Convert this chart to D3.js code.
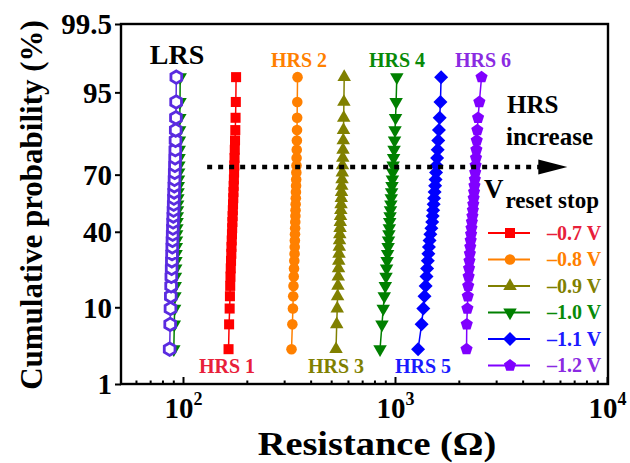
<!DOCTYPE html>
<meta charset="utf-8">
<style>
    body { margin: 0; background: #fff; }
    text { font-family: "Liberation Serif", "Times New Roman", serif; font-weight: bold; }
</style>
<svg width="630" height="463"></svg>
<script src="https://d3js.org/d3.v7.min.js"></script>
<script>
    // cumulative probability (%) of the 30 sorted cycles
    var prob = [3.2, 6.5, 9.7, 12.9, 16.1, 19.4, 22.6, 25.8, 29.0, 32.3, 35.5, 38.7, 41.9, 45.2, 48.4,
                51.6, 54.8, 58.1, 61.3, 64.5, 67.7, 71.0, 74.2, 77.4, 80.6, 83.9, 87.1, 90.3, 93.5, 96.8];

    // resistance (ohm), sorted
    var hrs07 = [164, 165, 166, 166.5, 167, 167.5, 168, 168.5, 169, 169.3, 169.8, 170.2, 170.6, 171, 171.4,
                 171.8, 172.2, 172.6, 173, 173.4, 173.8, 174.2, 174.6, 175, 175.5, 176, 176.5, 177, 177.5, 178];
    var hrs08 = [325, 328, 330, 331, 332, 333, 334, 335, 336, 336.5, 337, 337.5, 338, 338.5, 339,
                 339.5, 340, 340.5, 341, 341.5, 342, 342.5, 343, 343.5, 344, 344.5, 345, 345.5, 346, 347];
    var hrs09 = [527, 531, 534, 536, 538, 540, 541.5, 543, 544.5, 546, 547.5, 549, 550.5, 552, 553.5,
                 555, 556.5, 558, 559.5, 561, 562.5, 564, 565.5, 567, 568.5, 570, 571.5, 573, 574, 576];
    var hrs10 = [850, 868, 880, 890, 900, 907, 913, 918, 923, 928, 932, 936, 940, 944, 948,
                 952, 956, 960, 964, 968, 972, 976, 980, 985, 990, 995, 1000, 1006, 1012, 1020];
    var hrs11 = [1285, 1335, 1360, 1378, 1395, 1408, 1418, 1428, 1437, 1446, 1456, 1468, 1485, 1498, 1506,
                 1514, 1522, 1530, 1538, 1546, 1554, 1562, 1570, 1580, 1590, 1600, 1612, 1625, 1638, 1650];
    var hrs12 = [2175, 2180, 2195, 2205, 2215, 2225, 2235, 2245, 2255, 2265, 2275, 2285, 2295, 2305, 2318,
                 2330, 2340, 2350, 2360, 2370, 2380, 2390, 2400, 2410, 2420, 2430, 2445, 2465, 2500, 2560];
    var lrs10 = [90.5, 91, 91.3, 91.6, 91.9, 92.1, 92.4, 92.6, 92.8, 93, 93.2, 93.4, 93.6, 93.8, 94,
                 94.2, 94.4, 94.6, 94.8, 95, 95.2, 95.4, 95.6, 95.8, 96, 96.2, 96.4, 96.6, 96.8, 97];
    var lrs12 = [86.5, 87, 87.3, 87.6, 87.9, 88.1, 88.4, 88.6, 88.8, 89, 89.2, 89.4, 89.6, 89.8, 90,
                 90.2, 90.4, 90.6, 90.8, 91, 91.2, 91.4, 91.6, 91.8, 92, 92.2, 92.4, 92.6, 92.8, 93];

    var voltages = ["\u20130.7 V", "\u20130.8 V", "\u20130.9 V", "\u20131.0 V", "\u20131.1 V", "\u20131.2 V"];
    var hrsNames = ["HRS 1", "HRS 2", "HRS 3", "HRS 4", "HRS 5", "HRS 6"];
    var colors = ["#ff0000", "#ff8000", "#808000", "#008000", "#0000ff", "#8000ff"];
    var labelColors = ["#e8203a", "#ff8000", "#808000", "#088a08", "#1a1aff", "#8a2be2"];
    var yTicks = [1, 10, 40, 70, 95, 99.5];
    var xTicks = [100, 1000, 10000];

    // inverse normal CDF (Acklam)
    function probit(p) {
        var a = [-39.69683028665376, 220.9460984245205, -275.9285104469687, 138.3577518672690, -30.66479806614716, 2.506628277459239],
            b = [-54.47609879822406, 161.5858368580409, -155.6989798598866, 66.80131188771972, -13.28068155288572],
            c = [-0.007784894002430293, -0.3223964580411365, -2.400758277161838, -2.549732539343734, 4.374664141464968, 2.938163982698783],
            d = [0.007784695709041462, 0.3224671290700398, 2.445134137142996, 3.754408661907416],
            q, r;
        if (p < 0.02425) {
            q = Math.sqrt(-2 * Math.log(p));
            return (((((c[0] * q + c[1]) * q + c[2]) * q + c[3]) * q + c[4]) * q + c[5]) /
                ((((d[0] * q + d[1]) * q + d[2]) * q + d[3]) * q + 1);
        }
        if (p > 1 - 0.02425) {
            q = Math.sqrt(-2 * Math.log(1 - p));
            return -(((((c[0] * q + c[1]) * q + c[2]) * q + c[3]) * q + c[4]) * q + c[5]) /
                ((((d[0] * q + d[1]) * q + d[2]) * q + d[3]) * q + 1);
        }
        q = p - 0.5;
        r = q * q;
        return (((((a[0] * r + a[1]) * r + a[2]) * r + a[3]) * r + a[4]) * r + a[5]) * q /
            (((((b[0] * r + b[1]) * r + b[2]) * r + b[3]) * r + b[4]) * r + 1);
    }

    var svg = d3.select("svg"),
        LEFT = 121, RIGHT = 608, TOP = 24, BOTTOM = 384,
        x = d3.scaleLog().domain([51, 10000]).range([LEFT, 607]),
        yLin = d3.scaleLinear().domain([probit(0.01), probit(0.995)]).range([BOTTOM, TOP]);

    function makeY() {
        var s = function (p) { return yLin(probit(p / 100)); };
        s.copy = makeY;
        s.range = function () { return yLin.range(); };
        s.domain = function () { return [1, 99.5]; };
        return s;
    }
    var y = makeY();

    function poly(n, r, rot) {
        var pts = [];
        for (var k = 0; k < n; k++) {
            var a = rot + 2 * Math.PI * k / n;
            pts.push([(r * Math.sin(a)).toFixed(2), (-r * Math.cos(a)).toFixed(2)]);
        }
        return "M" + pts.join("L") + "Z";
    }
    var shapes = [
        poly(4, 7.1, Math.PI / 4),
        d3.symbol(d3.symbolCircle, 88)(),
        poly(3, 7.8, 0),
        poly(3, 7.8, Math.PI),
        poly(4, 7, 0),
        poly(5, 6.4, 0)
    ];
    var hexagon = poly(6, 6.2, 0);

    var hrsData = [hrs07, hrs08, hrs09, hrs10, hrs11, hrs12];

    var line = d3.line()
        .x(function (d) { return x(d.r); })
        .y(function (d) { return y(d.p); });

    function pairs(values) {
        return values.map(function (v, i) { return {r: v, p: prob[i]}; });
    }

    // frame
    svg.append("rect")
        .attr("x", LEFT).attr("y", TOP)
        .attr("width", RIGHT - LEFT).attr("height", BOTTOM - TOP)
        .attr("fill", "none").attr("stroke", "#000").attr("stroke-width", 2.4);

    // x axis
    var minor = [];
    [10, 100, 1000].forEach(function (dec) {
        for (var m = 2; m <= 9; m++) {
            if (m * dec >= 51 && m * dec < 10000) minor.push(m * dec);
        }
    });
    svg.append("g")
        .attr("transform", "translate(0," + BOTTOM + ")")
        .call(d3.axisBottom(x).tickValues(minor).tickFormat("").tickSizeInner(-3.5).tickSizeOuter(0))
        .call(function (g) { g.select(".domain").remove(); })
        .selectAll("line").attr("stroke-width", 2);

    var gx = svg.append("g")
        .attr("transform", "translate(0," + BOTTOM + ")")
        .call(d3.axisBottom(x).tickValues(xTicks).tickSizeInner(-7).tickSizeOuter(0).tickPadding(0));
    gx.select(".domain").remove();
    gx.selectAll("line").attr("stroke-width", 2);
    gx.attr("font-family", null).attr("font-size", 29);
    gx.selectAll(".tick text")
        .text(null)
        .attr("y", 34).attr("dy", null)
        .attr("fill", "#000")
        .call(function (t) {
            t.append("tspan").text("10");
            t.append("tspan").attr("dy", -13).attr("font-size", 18)
                .text(function (d) { return Math.round(Math.log10(d)); });
        });

    // y axis
    var gy = svg.append("g")
        .attr("transform", "translate(" + LEFT + ",0)")
        .call(d3.axisLeft(y).tickValues(yTicks).tickFormat(function (d) { return d; })
            .tickSizeInner(6).tickSizeOuter(0).tickPadding(3));
    gy.select(".domain").remove();
    gy.selectAll("line").attr("stroke-width", 2);
    gy.attr("font-family", null).attr("font-size", 29);
    gy.selectAll(".tick text").attr("fill", "#000").attr("dy", "0.34em");

    // titles
    svg.append("text")
        .attr("transform", "translate(377,455) scale(1.13,1)")
        .attr("text-anchor", "middle").attr("font-size", 34)
        .text("Resistance (\u03a9)");
    svg.append("text")
        .attr("transform", "translate(42,205) rotate(-90)")
        .attr("text-anchor", "middle").attr("font-size", 31)
        .text("Cumulative probability (%)");

    // LRS
    var lrsGroup = svg.append("g");
    lrsGroup.append("path").datum(pairs(lrs10))
        .attr("d", line).attr("fill", "none").attr("stroke", colors[3]).attr("stroke-width", 1.5);
    lrsGroup.selectAll(".lg").data(pairs(lrs10)).enter().append("path")
        .attr("transform", function (d) { return "translate(" + x(d.r) + "," + y(d.p) + ")"; })
        .attr("d", shapes[3]).attr("fill", colors[3]);
    lrsGroup.append("path").datum(pairs(lrs12))
        .attr("d", line).attr("fill", "none").attr("stroke", "#5a2be0").attr("stroke-width", 1.5);
    lrsGroup.selectAll(".lp").data(pairs(lrs12)).enter().append("path")
        .attr("transform", function (d) { return "translate(" + x(d.r) + "," + y(d.p) + ")"; })
        .attr("d", hexagon).attr("fill", "#fff").attr("stroke", "#5a2be0").attr("stroke-width", 2.8);

    // HRS
    hrsData.forEach(function (vals, k) {
        var g = svg.append("g");
        g.append("path").datum(pairs(vals))
            .attr("d", line).attr("fill", "none").attr("stroke", colors[k]).attr("stroke-width", 1.5);
        g.selectAll("path.m").data(pairs(vals)).enter().append("path")
            .attr("class", "m")
            .attr("transform", function (d) { return "translate(" + x(d.r) + "," + y(d.p) + ")"; })
            .attr("d", shapes[k]).attr("fill", colors[k]);
    });

    // state labels
    svg.append("text").attr("x", 177).attr("y", 64).attr("text-anchor", "middle")
        .attr("font-size", 28).text("LRS");
    var labelPos = [[227, 373], [299, 67], [336, 373], [397, 67], [423, 373], [483, 67]];
    svg.selectAll(".hl").data(hrsNames).enter().append("text")
        .attr("x", function (d, i) { return labelPos[i][0]; })
        .attr("y", function (d, i) { return labelPos[i][1]; })
        .attr("text-anchor", "middle").attr("font-size", 20)
        .attr("fill", function (d, i) { return labelColors[i]; })
        .text(function (d) { return d; });

    // HRS increase arrow
    svg.append("line")
        .attr("x1", x(130)).attr("x2", x(5500))
        .attr("y1", y(73.5)).attr("y2", y(73.5))
        .attr("stroke", "#000").attr("stroke-width", 4.5).attr("stroke-dasharray", "5 6");
    svg.append("path")
        .attr("transform", "translate(" + x(6500) + "," + y(73.5) + ")")
        .attr("d", "M0,0L-29,-7.5L-29,7.5Z").attr("fill", "#000");
    svg.append("text").attr("x", 507).attr("y", 113).attr("font-size", 25).text("HRS");
    svg.append("text").attr("x", 506).attr("y", 145).attr("font-size", 25).text("increase");

    // legend
    var vt = svg.append("text").attr("x", 484).attr("y", 198).attr("font-size", 27);
    vt.append("tspan").text("V");
    vt.append("tspan").attr("dy", 10).attr("dx", 2).attr("font-size", 23).text("reset stop");

    var leg = svg.selectAll(".leg").data(voltages).enter().append("g")
        .attr("transform", function (d, i) { return "translate(488," + (233 + i * 26.5) + ")"; });
    leg.append("line").attr("x1", 0).attr("x2", 42)
        .attr("stroke", function (d, i) { return colors[i]; }).attr("stroke-width", 2.2);
    leg.append("path").attr("transform", "translate(22,0)")
        .attr("d", function (d, i) { return shapes[i]; })
        .attr("fill", function (d, i) { return colors[i]; });
    leg.append("text").attr("x", 59).attr("dy", "0.34em").attr("font-size", 20)
        .attr("fill", function (d, i) { return labelColors[i]; })
        .text(function (d) { return d; });
</script>
